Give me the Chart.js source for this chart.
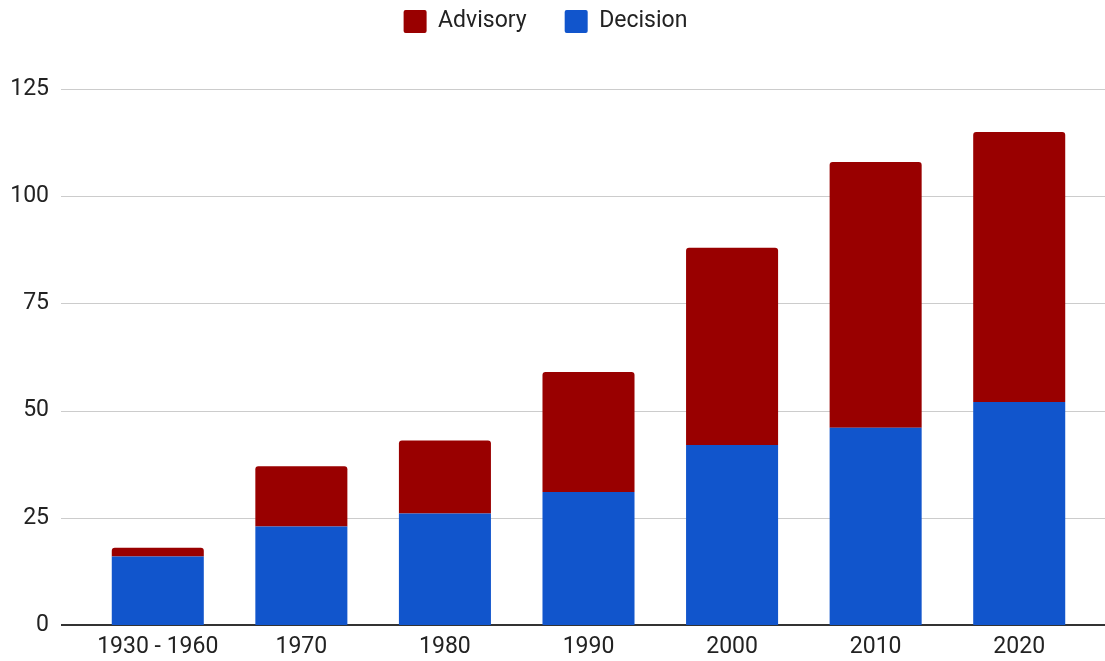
<!DOCTYPE html>
<html>
<head>
<meta charset="utf-8">
<script src="https://cdn.jsdelivr.net/npm/chart.js@4"></script>
<style>
  html, body { margin: 0; padding: 0; background: #fff; }
  #wrap { width: 1105px; height: 661px; }
</style>
</head>
<body>
<div id="wrap"><canvas id="chart" width="1105" height="661"></canvas></div>
<script>
// Data
const categories = ['1930 - 1960', '1970', '1980', '1990', '2000', '2010', '2020'];
const decision = [16, 23, 26, 31, 42, 46, 52];
const advisory = [2, 14, 17, 28, 46, 62, 63];
const yTicks = [0, 25, 50, 75, 100, 125];

const FONT = 'Roboto, "Open Sans", sans-serif';

// push the chart area down below the legend
const legendGap = {
  id: 'legendGap',
  beforeInit(chart) {
    const fit = chart.legend.fit;
    chart.legend.fit = function () {
      fit.call(this);
      this.height += 46;
    };
  }
};

// gridlines run wider than the bar area, like the original
const wideGrid = {
  id: 'wideGrid',
  beforeDatasetsDraw(chart) {
    const ctx = chart.ctx;
    const y = chart.scales.y;
    ctx.save();
    yTicks.forEach(v => {
      const py = Math.round(y.getPixelForValue(v));
      ctx.beginPath();
      if (v === 0) {
        ctx.strokeStyle = '#333333';
        ctx.lineWidth = 2;
        ctx.moveTo(61, py);
        ctx.lineTo(1105, py);
      } else {
        ctx.strokeStyle = '#cccccc';
        ctx.lineWidth = 1;
        ctx.moveTo(61, py + 0.5);
        ctx.lineTo(1105, py + 0.5);
      }
      ctx.stroke();
    });
    ctx.restore();
  }
};

new Chart(document.getElementById('chart'), {
  type: 'bar',
  data: {
    labels: categories,
    datasets: [
      {
        label: 'Decision',
        data: decision,
        backgroundColor: '#1155cc',
        borderRadius: 0
      },
      {
        label: 'Advisory',
        data: advisory,
        backgroundColor: '#990000',
        borderRadius: { topLeft: 3, topRight: 3, bottomLeft: 0, bottomRight: 0 },
        borderSkipped: false
      }
    ]
  },
  options: {
    responsive: false,
    animation: false,
    devicePixelRatio: 1,
    layout: { padding: { left: 0, right: 14, top: -28, bottom: 0 } },
    datasets: {
      bar: { categoryPercentage: 1, barPercentage: 0.641 }
    },
    plugins: {
      legend: {
        position: 'top',
        align: 'center',
        reverse: true,
        labels: {
          boxWidth: 23,
          boxHeight: 23,
          padding: 38,
          useBorderRadius: true,
          borderRadius: 2,
          color: '#222222',
          font: { family: FONT, size: 23 }
        }
      },
      tooltip: { enabled: false }
    },
    scales: {
      x: {
        stacked: true,
        grid: { display: false, drawTicks: false },
        border: { display: false },
        afterFit(scale) { scale.height = 36; },
        ticks: {
          color: '#222222',
          padding: 8,
          maxRotation: 0,
          font: { family: FONT, size: 23, lineHeight: 1.2 }
        }
      },
      y: {
        stacked: true,
        min: 0,
        max: 125,
        grid: { display: false, drawTicks: false },
        border: { display: false },
        afterFit(scale) {
          scale.width = 86;
          scale.paddingTop = 14;
          scale.paddingBottom = 14;
        },
        ticks: {
          stepSize: 25,
          color: '#222222',
          padding: 37,
          font: { family: FONT, size: 23 }
        }
      }
    }
  },
  plugins: [legendGap, wideGrid]
});
</script>
</body>
</html>
